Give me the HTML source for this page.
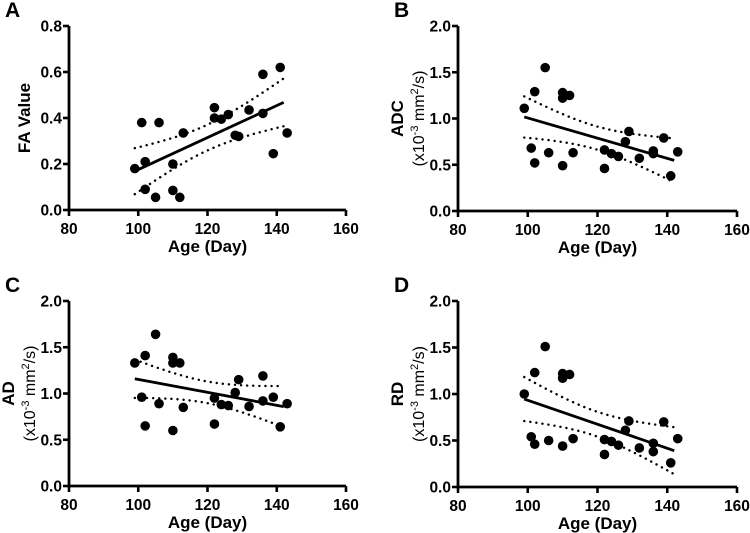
<!DOCTYPE html>
<html><head><meta charset="utf-8"><style>
body{margin:0;background:#fff;}
svg{display:block;font-family:"Liberation Sans",Arial,sans-serif;font-weight:bold;}
</style></head><body>
<svg id="fig" width="750" height="533" viewBox="0 0 750 533"></svg>
<script>
const ages = [99,101,102,102,105,106,110,110,110,112,113,122,122,124,126,128,129,132,136,136,139,141,143];
const agesA = [99,101,102,102,105,106,110,110,112,113,122,122,124,126,128,129,132,136,136,139,141,143];
const faValues = [0.18,0.38,0.21,0.09,0.055,0.38,0.20,0.085,0.055,0.335,0.445,0.40,0.395,0.415,0.325,0.32,0.435,0.59,0.42,0.245,0.62,0.335];
const adcValues = [1.11,0.68,1.29,0.52,1.55,0.63,1.28,1.22,0.49,1.25,0.63,0.66,0.46,0.62,0.59,0.75,0.86,0.57,0.65,0.62,0.79,0.38,0.64];
const adValues = [1.33,0.96,1.41,0.65,1.64,0.89,1.39,1.33,0.60,1.33,0.85,0.95,0.67,0.88,0.87,1.01,1.15,0.86,1.19,0.92,0.96,0.64,0.89];
const rdValues = [1.0,0.54,1.23,0.46,1.51,0.50,1.22,1.17,0.44,1.21,0.52,0.51,0.35,0.49,0.45,0.61,0.71,0.42,0.47,0.38,0.70,0.26,0.52];
const xTicks = [80,100,120,140,160];
const yTicksA = ["0.0","0.2","0.4","0.6","0.8"];
const yTicksB = ["0.0","0.5","1.0","1.5","2.0"];

const NS="http://www.w3.org/2000/svg";
const svg=document.getElementById('fig');
function mk(tag,attrs,parent,text){const e=document.createElementNS(NS,tag);for(const k in attrs)e.setAttribute(k,attrs[k]);if(text!==undefined)e.textContent=text;(parent||svg).appendChild(e);return e;}

const panels=[
 {id:'a',letter:'A',x0:69,x1:346,y0:210,y1:26,ymax:0.8,yt:yTicksA,xs:agesA,ys:faValues,lab1:'FA Value',lab2:null},
 {id:'b',letter:'B',x0:458,x1:737,y0:211,y1:26,ymax:2.0,yt:yTicksB,xs:ages,ys:adcValues,lab1:'ADC',lab2:true},
 {id:'c',letter:'C',x0:69,x1:346,y0:486,y1:301,ymax:2.0,yt:yTicksB,xs:ages,ys:adValues,lab1:'AD',lab2:true},
 {id:'d',letter:'D',x0:458,x1:737,y0:487,y1:301,ymax:2.0,yt:yTicksB,xs:ages,ys:rdValues,lab1:'RD',lab2:true}
];

panels.forEach(p=>{
 const g=mk('g',{});
 
 
 const sx=v=>p.x0+(v-80)/80*(p.x1-p.x0);
 const sy=v=>p.y0-v/p.ymax*(p.y0-p.y1);
 const L=mk('text',{x:p.x0-64,y:p.y1-9,'font-size':21},g,p.letter);
 
 
 const ax=mk('path',{d:`M${p.x0},${p.y1} L${p.x0},${p.y0} L${p.x1},${p.y0}`,stroke:'#000','stroke-width':2.8,fill:'none'},g);
 
 
 xTicks.forEach(t=>{
  mk('line',{x1:sx(t),x2:sx(t),y1:p.y0,y2:p.y0+6,stroke:'#000','stroke-width':2.6},g);
  const tl=mk('text',{x:sx(t),y:p.y0+24,'font-size':15.5,'text-anchor':'middle'},g,String(t));
  
  
 });
 p.yt.forEach(t=>{
  const v=parseFloat(t);
  mk('line',{x1:p.x0-6,x2:p.x0,y1:sy(v),y2:sy(v),stroke:'#000','stroke-width':2.6},g);
  const tl=mk('text',{x:p.x0-7,y:sy(v)+5.5,'font-size':15.5,'text-anchor':'end'},g,t);
  
  
 });
 const xt=mk('text',{x:(p.x0+p.x1)/2,y:p.y0+42,'font-size':17,'text-anchor':'middle'},g,'Age (Day)');
 
 
 const cy=(p.y0+p.y1)/2;
 if(!p.lab2){
  const yt=mk('text',{x:0,y:0,'font-size':17,'text-anchor':'middle',transform:`translate(${p.x0-39},${cy}) rotate(-90)`},g,p.lab1);
  
  
 } else {
  const yt=mk('text',{x:0,y:0,'font-size':17,'text-anchor':'middle',transform:`translate(${p.x0-55},${cy}) rotate(-90)`},g,p.lab1);
  
  
  const u=mk('text',{x:0,y:0,'font-size':16,'font-weight':'normal','text-anchor':'middle',transform:`translate(${p.x0-34},${cy}) rotate(-90)`},g);
  
  
  mk('tspan',{},u,'(x10');
  mk('tspan',{dy:-6,'font-size':11},u,'-3');
  mk('tspan',{dy:6},u,' mm');
  mk('tspan',{dy:-6,'font-size':11},u,'2');
  mk('tspan',{dy:6},u,'/s)');
 }
 const n=p.xs.length;
 const mx=p.xs.reduce((a,b)=>a+b,0)/n, my=p.ys.reduce((a,b)=>a+b,0)/n;
 let sxx=0,sxy=0;p.xs.forEach((x,i)=>{sxx+=(x-mx)**2;sxy+=(x-mx)*(p.ys[i]-my);});
 const b=sxy/sxx,a=my-b*mx;
 let sse=0;p.xs.forEach((x,i)=>{sse+=(p.ys[i]-a-b*x)**2;});
 const s=Math.sqrt(sse/(n-2)),tq=2.08;
 const xmin=Math.min(...p.xs),xmax=142;
 const up=[],lo=[];
 for(let x=xmin;x<=xmax+0.001;x+=0.5){
  const h=tq*s*Math.sqrt(1/n+(x-mx)**2/sxx);
  up.push(`${sx(x)},${sy(a+b*x+h)}`);lo.push(`${sx(x)},${sy(a+b*x-h)}`);
 }
 const cu=mk('polyline',{points:up.join(' '),fill:'none',stroke:'#000','stroke-width':2.4,'stroke-dasharray':'0.1 6','stroke-linecap':'round'},g);
 
 
 const cl=mk('polyline',{points:lo.join(' '),fill:'none',stroke:'#000','stroke-width':2.4,'stroke-dasharray':'0.1 6','stroke-linecap':'round'},g);
 
 
 const fl=mk('line',{x1:sx(xmin),y1:sy(a+b*xmin),x2:sx(xmax),y2:sy(a+b*xmax),stroke:'#000','stroke-width':2.8},g);
 
 
 p.xs.forEach((x,i)=>{
  const c=mk('circle',{cx:sx(x),cy:sy(p.ys[i]),r:4.8,fill:'#000'},g);
  
  
 });
});
</script>
</body></html>
